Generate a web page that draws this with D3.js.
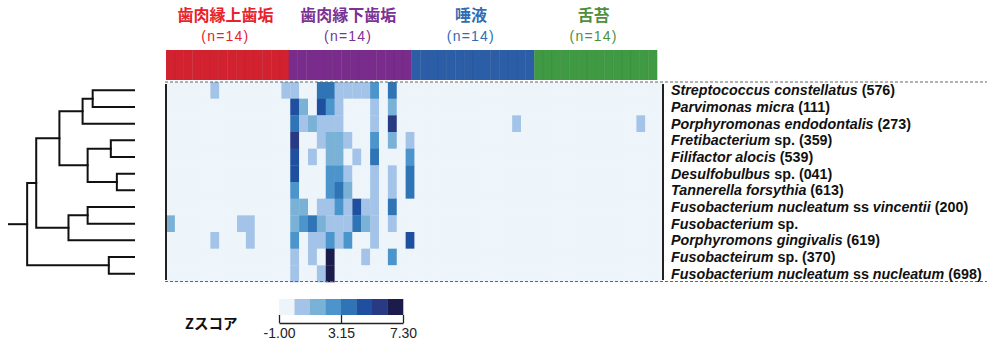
<!DOCTYPE html>
<html><head><meta charset="utf-8">
<script src="https://cdn.jsdelivr.net/npm/d3@7"></script>
<style>body{margin:0;background:#fff}svg{display:block}</style>
</head><body><svg id="c" width="987" height="352"></svg>
<script>
// ---------------- data ----------------
const groups = ["歯肉縁上歯垢", "歯肉縁下歯垢", "唾液", "舌苔"];
const groupN = ["(n=14)", "(n=14)", "(n=14)", "(n=14)"];
const groupColors = ["#d3222f", "#7a2c8c", "#2c5ea7", "#3f9a43"];
const groupTextColors = ["#e8212b", "#7b3294", "#2f6cb3", "#4f8f3c"];
const samplesPerGroup = 14;

const species = [
  [["Streptococcus constellatus", true], [" (576)", false]],
  [["Parvimonas micra", true], [" (111)", false]],
  [["Porphyromonas endodontalis", true], [" (273)", false]],
  [["Fretibacterium", true], [" sp. (359)", false]],
  [["Filifactor alocis", true], [" (539)", false]],
  [["Desulfobulbus", true], [" sp. (041)", false]],
  [["Tannerella forsythia", true], [" (613)", false]],
  [["Fusobacterium nucleatum", true], [" ss ", false], ["vincentii", true], [" (200)", false]],
  [["Fusobacterium", true], [" sp.", false]],
  [["Porphyromons gingivalis", true], [" (619)", false]],
  [["Fusobacteirum", true], [" sp. (370)", false]],
  [["Fusobacterium nucleatum", true], [" ss ", false], ["nucleatum", true], [" (698)", false]]
];

// Z-scores per species (12 rows) x sample (56 columns: 4 groups of 14), estimated from colours
const zScores = [
 [-.5,-.5,-.5,-.5,-.5,.6,-.5,-.5,-.5,-.5,-.5,-.5,-.5,.6,
  .6,-.5,-.5,3.7,3.7,.6,.6,.6,.6,2.7,-.5,3.7,-.5,-.5,
  -.5,-.5,-.5,-.5,-.5,-.5,-.5,-.5,-.5,-.5,-.5,-.5,-.5,-.5,
  -.5,-.5,-.5,-.5,-.5,-.5,-.5,-.5,-.5,-.5,-.5,-.5,-.5,-.5],
 [-.5,-.5,-.5,-.5,-.5,-.5,-.5,-.5,-.5,-.5,-.5,-.5,-.5,-.5,
  4.8,1.6,-.5,4.8,2.7,.6,-.5,-.5,-.5,.6,-.5,1.6,-.5,-.5,
  -.5,-.5,-.5,-.5,-.5,-.5,-.5,-.5,-.5,-.5,-.5,-.5,-.5,-.5,
  -.5,-.5,-.5,-.5,-.5,-.5,-.5,-.5,-.5,-.5,-.5,-.5,-.5,-.5],
 [-.5,-.5,-.5,-.5,-.5,-.5,-.5,-.5,-.5,-.5,-.5,-.5,-.5,-.5,
  3.7,.6,1.6,.6,.6,.6,-.5,-.5,-.5,.6,-.5,5.8,-.5,-.5,
  -.5,-.5,-.5,-.5,-.5,-.5,-.5,-.5,-.5,-.5,-.5,.6,-.5,-.5,
  -.5,-.5,-.5,-.5,-.5,-.5,-.5,-.5,-.5,-.5,-.5,.6,-.5,-.5],
 [-.5,-.5,-.5,-.5,-.5,-.5,-.5,-.5,-.5,-.5,-.5,-.5,-.5,-.5,
  5.8,-.5,-.5,.6,1.6,1.6,.6,-.5,-.5,2.7,-.5,1.6,-.5,.6,
  -.5,-.5,-.5,-.5,-.5,-.5,-.5,-.5,-.5,-.5,-.5,-.5,-.5,-.5,
  -.5,-.5,-.5,-.5,-.5,-.5,-.5,-.5,-.5,-.5,-.5,-.5,-.5,-.5],
 [-.5,-.5,-.5,-.5,-.5,-.5,-.5,-.5,-.5,-.5,-.5,-.5,-.5,-.5,
  4.8,-.5,.6,-.5,1.6,1.6,-.5,.6,-.5,3.7,-.5,-.5,-.5,2.7,
  -.5,-.5,-.5,-.5,-.5,-.5,-.5,-.5,-.5,-.5,-.5,-.5,-.5,-.5,
  -.5,-.5,-.5,-.5,-.5,-.5,-.5,-.5,-.5,-.5,-.5,-.5,-.5,-.5],
 [-.5,-.5,-.5,-.5,-.5,-.5,-.5,-.5,-.5,-.5,-.5,-.5,-.5,-.5,
  4.8,-.5,-.5,-.5,2.7,2.7,.6,-.5,-.5,.6,-.5,.6,-.5,3.7,
  -.5,-.5,-.5,-.5,-.5,-.5,-.5,-.5,-.5,-.5,-.5,-.5,-.5,-.5,
  -.5,-.5,-.5,-.5,-.5,-.5,-.5,-.5,-.5,-.5,-.5,-.5,-.5,-.5],
 [-.5,-.5,-.5,-.5,-.5,-.5,-.5,-.5,-.5,-.5,-.5,-.5,-.5,-.5,
  2.7,-.5,-.5,-.5,2.7,3.7,1.6,-.5,-.5,.6,-.5,.6,-.5,3.7,
  -.5,-.5,-.5,-.5,-.5,-.5,-.5,-.5,-.5,-.5,-.5,-.5,-.5,-.5,
  -.5,-.5,-.5,-.5,-.5,-.5,-.5,-.5,-.5,-.5,-.5,-.5,-.5,-.5],
 [-.5,-.5,-.5,-.5,-.5,-.5,-.5,-.5,-.5,-.5,-.5,-.5,-.5,-.5,
  1.6,1.6,-.5,.6,.6,2.7,.6,4.8,.6,.6,-.5,3.7,-.5,-.5,
  -.5,-.5,-.5,-.5,-.5,-.5,-.5,-.5,-.5,-.5,-.5,-.5,-.5,-.5,
  -.5,-.5,-.5,-.5,-.5,-.5,-.5,-.5,-.5,-.5,-.5,-.5,-.5,-.5],
 [1.6,-.5,-.5,-.5,-.5,-.5,-.5,-.5,.6,.6,-.5,-.5,-.5,-.5,
  1.6,2.7,3.7,1.6,.6,.6,.6,3.7,1.6,.6,-.5,.6,-.5,-.5,
  -.5,-.5,-.5,-.5,-.5,-.5,-.5,-.5,-.5,-.5,-.5,-.5,-.5,-.5,
  -.5,-.5,-.5,-.5,-.5,-.5,-.5,-.5,-.5,-.5,-.5,-.5,-.5,-.5],
 [-.5,-.5,-.5,-.5,-.5,.6,-.5,-.5,-.5,.6,-.5,-.5,-.5,-.5,
  2.7,-.5,.6,.6,2.7,.6,2.7,-.5,-.5,.6,-.5,-.5,-.5,4.8,
  -.5,-.5,-.5,-.5,-.5,-.5,-.5,-.5,-.5,-.5,-.5,-.5,-.5,-.5,
  -.5,-.5,-.5,-.5,-.5,-.5,-.5,-.5,-.5,-.5,-.5,-.5,-.5,-.5],
 [-.5,-.5,-.5,-.5,-.5,-.5,-.5,-.5,-.5,-.5,-.5,-.5,-.5,-.5,
  .6,-.5,.6,-.5,6.9,-.5,-.5,-.5,.6,-.5,-.5,2.7,-.5,-.5,
  -.5,-.5,-.5,-.5,-.5,-.5,-.5,-.5,-.5,-.5,-.5,-.5,-.5,-.5,
  -.5,-.5,-.5,-.5,-.5,-.5,-.5,-.5,-.5,-.5,-.5,-.5,-.5,-.5],
 [-.5,-.5,-.5,-.5,-.5,-.5,-.5,-.5,-.5,-.5,-.5,-.5,-.5,-.5,
  .6,-.5,-.5,.6,6.9,-.5,-.5,-.5,-.5,-.5,-.5,-.5,-.5,-.5,
  -.5,-.5,-.5,-.5,-.5,-.5,-.5,-.5,-.5,-.5,-.5,-.5,-.5,-.5,
  -.5,-.5,-.5,-.5,-.5,-.5,-.5,-.5,-.5,-.5,-.5,-.5,-.5,-.5]
];

const zDomain = [-1.00, 7.30];
const legendTicks = [-1.00, 3.15, 7.30];
const legendColors = ["#edf4fa", "#a3c4e8", "#79b2d6", "#4b94cc", "#2f74b5", "#1f50a0", "#283a84", "#1b1c4c"];
const legendTitle = "Zスコア";

// dendrogram: merge heights (distance units), leaves refer to species rows
const dendroTree = {h: 1.06, children: [
  {h: 0.97, children: [
    {h: 0.74, children: [
      {h: 0.51, children: [{h: 0.41, children: [{leaf: 0}, {leaf: 1}]}, {leaf: 2}]},
      {h: 0.46, children: [{h: 0.23, children: [{leaf: 3}, {leaf: 4}]}, {h: 0.17, children: [{leaf: 5}, {leaf: 6}]}]}
    ]},
    {h: 0.65, children: [{h: 0.46, children: [{leaf: 7}, {leaf: 8}]}, {leaf: 9}]}
  ]},
  {h: 0.25, children: [{leaf: 10}, {leaf: 11}]}
]};
const dendroMax = 1.24;

// ---------------- drawing ----------------
const svg = d3.select("#c");
const nCols = groups.length * samplesPerGroup;
const colIdx = d3.range(nCols);
const rowIdx = d3.range(species.length);

const x = d3.scaleBand().domain(colIdx).range([166, 663]);
const y = d3.scaleBand().domain(rowIdx).range([82, 282]);
const xBar = d3.scaleBand().domain(colIdx).range([166, 657]);
const color = d3.scaleQuantize().domain(zDomain).range(legendColors);

// group colour bar
svg.append("g").selectAll("rect").data(colIdx).join("rect")
  .attr("x", d => xBar(d)).attr("y", 50)
  .attr("width", xBar.bandwidth() + 0.3).attr("height", 30)
  .attr("fill", d => groupColors[Math.floor(d / samplesPerGroup)]);
svg.append("g").selectAll("line").data(colIdx.filter(d => d % samplesPerGroup !== 0)).join("line")
  .attr("x1", d => xBar(d)).attr("x2", d => xBar(d)).attr("y1", 50).attr("y2", 80)
  .attr("stroke", "rgba(0,0,0,0.08)").attr("stroke-width", 0.8);

// group labels
const gl = svg.append("g").selectAll("g").data(groups).join("g")
  .attr("transform", (d, i) => {
    const cx = (xBar(i * samplesPerGroup) + xBar((i + 1) * samplesPerGroup - 1) + xBar.bandwidth()) / 2;
    return `translate(${cx - 2},0)`;
  });
gl.append("text").attr("y", 21).attr("text-anchor", "middle")
  .attr("font-family", "'Noto Sans CJK JP', sans-serif").attr("font-weight", "bold").attr("font-size", 16)
  .attr("fill", (d, i) => groupTextColors[i]).text(d => d);
gl.append("text").attr("y", 41).attr("text-anchor", "middle")
  .attr("font-family", "'Liberation Sans', Arial, sans-serif").attr("font-size", 14).attr("letter-spacing", 1.2)
  .attr("fill", (d, i) => groupTextColors[i]).text((d, i) => groupN[i]);

// heatmap cells
const cells = [];
zScores.forEach((row, r) => row.forEach((v, c) => cells.push({r, c, v})));
svg.append("g").selectAll("rect").data(cells).join("rect")
  .attr("x", d => x(d.c)).attr("y", d => y(d.r))
  .attr("width", x.bandwidth() + 0.3).attr("height", y.bandwidth() + 0.3)
  .attr("fill", d => color(d.v));

// dashed separators
[82, 281.5].forEach(yy => {
  svg.append("line").attr("x1", 165).attr("x2", 987).attr("y1", yy).attr("y2", yy)
    .attr("stroke", "#666").attr("stroke-width", 1).attr("stroke-dasharray", "3,2");
});
// black borders left/right of heatmap
[166, 663].forEach(xx => {
  svg.append("line").attr("x1", xx).attr("x2", xx).attr("y1", 84).attr("y2", 280)
    .attr("stroke", "#222").attr("stroke-width", 2);
});

// species labels
const lab = svg.append("g").selectAll("text").data(species).join("text")
  .attr("x", 671).attr("y", (d, i) => y(i) + y.bandwidth() / 2 + 5)
  .attr("font-family", "'Liberation Sans', Arial, sans-serif").attr("font-weight", "bold").attr("font-size", 14.3)
  .attr("fill", "#111");
lab.selectAll("tspan").data(d => d).join("tspan")
  .attr("font-style", d => d[1] ? "italic" : "normal").text(d => d[0]);

// dendrogram
const root = d3.hierarchy(dendroTree);
const xd = d3.scaleLinear().domain([0, dendroMax]).range([134, 9]);
root.eachAfter(n => {
  if (!n.children) { n.py = y(n.data.leaf) + y.bandwidth() / 2; n.px = xd(0); }
  else { n.py = d3.mean(n.children, c => c.py); n.px = xd(n.data.h); }
});
const dg = svg.append("g").attr("fill", "none").attr("stroke", "#111").attr("stroke-width", 2).attr("stroke-linecap", "square");
root.descendants().filter(n => n.children).forEach(n => {
  const [a, b] = n.children;
  dg.append("path").attr("d", `M${a.px},${a.py}H${n.px}V${b.py}H${b.px}`);
});
dg.append("path").attr("d", `M${xd(dendroMax)},${root.py}H${root.px}`);

// colour legend
const lx = d3.scaleLinear().domain(zDomain).range([279, 403]);
const lg = svg.append("g");
const binW = (zDomain[1] - zDomain[0]) / legendColors.length;
lg.selectAll("rect").data(legendColors).join("rect")
  .attr("x", (d, i) => lx(zDomain[0] + i * binW))
  .attr("y", 299).attr("height", 16)
  .attr("width", lx(zDomain[0] + binW) - lx(zDomain[0]) + 0.3)
  .attr("fill", d => d);
const ax = lg.append("g").attr("transform", "translate(0,323)")
  .call(d3.axisBottom(lx).tickValues(legendTicks).tickFormat(d => d.toFixed(2)).tickSizeInner(-8).tickSizeOuter(0).tickPadding(5));
ax.select(".domain").attr("stroke", "#222").attr("stroke-width", 1.3);
ax.selectAll(".tick line").attr("stroke", "#222").attr("stroke-width", 1.3);
ax.selectAll(".tick text").attr("font-family", "'Liberation Sans', Arial, sans-serif").attr("font-size", 14).attr("fill", "#222");
svg.append("text").attr("x", 185).attr("y", 329)
  .attr("font-family", "'Noto Sans CJK JP', sans-serif").attr("font-weight", "bold").attr("font-size", 14.5)
  .attr("fill", "#111").text(legendTitle);
</script></body></html>
